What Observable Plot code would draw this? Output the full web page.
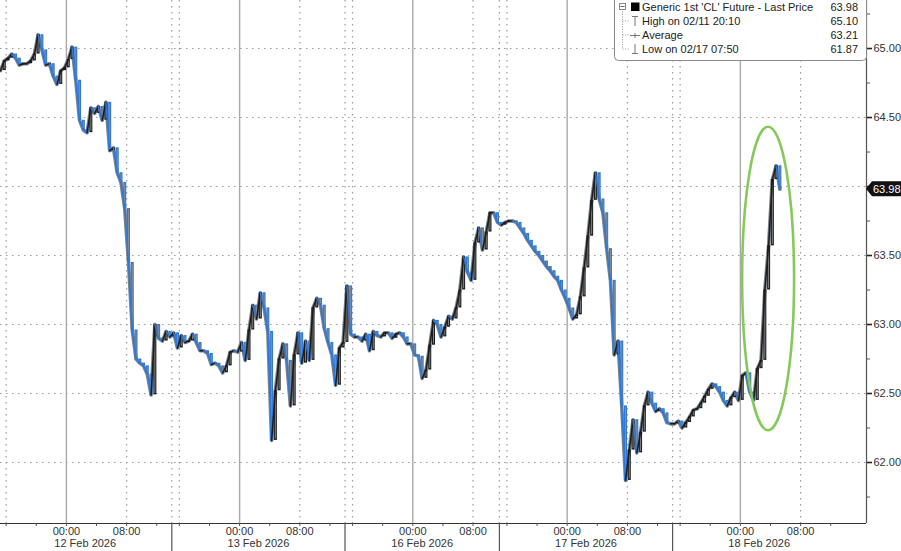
<!DOCTYPE html>
<html><head><meta charset="utf-8">
<script src="https://cdn.jsdelivr.net/npm/d3@7"></script>
<script src="https://cdn.jsdelivr.net/npm/@observablehq/plot@0.6"></script>
<style>
body{margin:0;background:#fff;font-family:"Liberation Sans",Arial,sans-serif}
#chart{position:relative;width:901px;height:551px;overflow:hidden}
</style>
</head><body><div id="chart"></div>
<script>
// ---- data ----
// closes every 0.5 trading hours from the left edge of the chart
const barStepHours = 0.5;
const prices = [
64.84,64.91,64.93,64.96,64.93,64.88,64.89,64.89,64.91,64.96,
65.10,64.99,64.88,64.89,64.80,64.74,64.84,64.86,64.92,65.01,
64.77,64.48,64.41,64.39,64.57,64.53,64.58,64.48,64.61,64.26,
64.28,64.10,64.03,63.84,63.45,62.96,62.75,62.72,62.70,62.64,
62.49,63.00,62.90,62.88,62.95,62.91,62.94,62.83,62.92,62.87,
62.88,62.93,62.87,62.81,62.81,62.79,62.71,62.72,62.70,62.65,
62.70,62.80,62.81,62.80,62.87,62.74,62.96,63.14,63.04,63.23,
63.12,62.95,62.16,62.52,62.75,62.86,62.74,62.41,62.78,62.94,
62.72,62.88,62.74,63.12,63.19,63.14,62.97,62.87,62.78,62.56,
62.83,62.87,63.28,62.93,62.91,62.91,62.88,62.93,62.81,62.95,
62.92,62.91,62.94,62.94,62.90,62.93,62.94,62.91,62.86,62.86,
62.78,62.77,62.61,62.67,62.85,63.03,63.00,62.91,62.98,63.06,
63.04,63.12,63.25,63.49,63.38,63.32,63.59,63.70,63.54,63.67,
63.81,63.81,63.74,63.72,63.74,63.75,63.75,63.74,63.70,63.66,
63.61,63.57,63.53,63.50,63.46,63.42,63.39,63.35,63.32,63.25,
63.19,63.12,63.04,63.07,63.20,63.41,63.64,63.90,64.10,63.91,
63.81,63.55,63.32,62.78,62.88,62.41,61.87,62.09,62.31,62.07,
62.22,62.41,62.51,62.43,62.37,62.39,62.36,62.29,62.28,62.28,
62.30,62.25,62.29,62.33,62.38,62.39,62.43,62.48,62.53,62.57,
62.55,62.51,62.45,62.41,62.47,62.51,62.45,62.63,62.65,62.51,
62.45,62.68,62.74,63.25,63.57,64.05,64.15,63.98
];
// trading sessions (hours of trading time from the chart's left edge)
const sessionStarts = [-0.25, 22.75, 45.75, 66.25, 89.25];
const sessionEnds   = [22.75, 45.75, 66.25, 89.25, 112.25];
const sessionLabels = ["12 Feb 2026","13 Feb 2026","16 Feb 2026","17 Feb 2026","18 Feb 2026"];
const clockLabels = ["00:00","08:00"];
const clockOffsets = [9, 17];            // hours after session start
const minorTickOffsets = [1, 5, 9, 13, 17, 21];
const xDomain = [0, 115];
const yDomain = [61.558, 65.348];
const yTicks = [62.0, 62.5, 63.0, 63.5, 64.0, 64.5, 65.0];
const yTickLabels = ["62.00","62.50","63.00","63.50","","64.50","65.00"];
const yMinorTicks = [61.75, 62.25, 62.75, 63.25, 63.75, 64.25, 64.75, 65.25];
const lastPrice = 63.98;
const legendNames = ["Generic 1st 'CL' Future - Last Price","High on 02/11 20:10","Average","Low on 02/17 07:50"];
const legendValues = ["63.98","65.10","63.21","61.87"];
// highlighted area (trading hour, price, half-width in hours, half-height in price)
const highlight = {t: 102.0, p: 63.33, rt: 3.45, rp: 1.10};

// ---- derived tables ----
const bars = prices.map((p, i) => ({t: i * barStepHours, p, prevT: i ? (i - 1) * barStepHours : 0, prev: i ? prices[i - 1] : p}));
const midnights = sessionStarts.map(s => s + clockOffsets[0]);
const eights = sessionStarts.map(s => s + clockOffsets[1]);
const clockTicks = sessionStarts.flatMap(s => clockOffsets.map((o, k) => ({t: s + o, label: clockLabels[k]})));
const minorX = sessionStarts.flatMap((s, i) => minorTickOffsets.map(o => s + o).filter(t => t < sessionEnds[i] && t < xDomain[1]));
const sessionMids = sessionStarts.map((s, i) => ({t: (s + sessionEnds[i]) / 2, label: sessionLabels[i]}));
const sessionDots = sessionStarts.flatMap(s => [s, s + 1]).filter(t => t >= 0);

const up = "#1c1c1c", down = "#2f78d6";
const dir = d => d.p >= d.prev ? up : down;
const plot = Plot.plot({
  width: 901, height: 551,
  marginLeft: 0, marginRight: 35, marginTop: 0, marginBottom: 28,
  style: {fontFamily: "'Liberation Sans', Arial, sans-serif", fontSize: "11px", color: "#333", background: "#fff"},
  x: {domain: xDomain, label: null},
  y: {domain: yDomain, label: null},
  color: {type: "identity"},
  marks: [
    Plot.ruleY(yTicks, {stroke: "#9a9a9a", strokeDasharray: "1.5,4.5", strokeWidth: 1.2}),
    Plot.ruleX(eights.concat(sessionDots), {stroke: "#9a9a9a", strokeDasharray: "1.5,4.5", strokeWidth: 1.2}),
    Plot.ruleX(midnights, {stroke: "#a9a9a9", strokeWidth: 1.4}),
    Plot.line(bars, {x: "t", y: "p", stroke: "#7a838d", strokeWidth: 3.6}),
    Plot.ruleX(bars, {x: "t", y1: "prev", y2: "p", stroke: dir, strokeWidth: 3}),
    Plot.ruleX(bars, {x: "t", y1: d => Math.min(d.p, d.prev) + 0.01, y2: d => Math.max(d.p, d.prev) - 0.01, stroke: "#8e8e8e", strokeWidth: 0.9}),
    Plot.link(bars, {x1: "prevT", y1: "prev", x2: "t", y2: "p", stroke: dir, strokeWidth: 1.5, strokeLinecap: "round"}),
    Plot.ruleY([yDomain[0]], {stroke: "#333", strokeWidth: 1.2}),
    Plot.ruleX([xDomain[1]], {stroke: "#555", strokeWidth: 1.2}),
    Plot.axisY({anchor: "right", label: null, ticks: yTicks, tickFormat: (d, i) => yTickLabels[i], tickSize: 5, tickPadding: 2, strokeWidth: 1.6, stroke: "#222", fill: "#333"}),
    Plot.axisY({anchor: "right", label: null, ticks: yMinorTicks, tickSize: 3, text: null, stroke: "#555"}),
    Plot.axisX({label: null, ticks: minorX, tickSize: 3, text: null, stroke: "#555"}),
    Plot.axisX({label: null, ticks: sessionStarts.slice(1), tickSize: 28, text: null, stroke: "#555", strokeWidth: 1.2}),
    Plot.text(clockTicks, {x: "t", text: "label", frameAnchor: "bottom", lineAnchor: "top", dy: 4, fill: "#333"}),
    Plot.text(sessionMids, {x: "t", text: "label", frameAnchor: "bottom", lineAnchor: "top", dy: 16, fill: "#333"})
  ]
});

const svg = d3.select(plot);
const xs = plot.scale("x"), ys = plot.scale("y");
// highlight ellipse
const cx = xs.apply(highlight.t), cy = ys.apply(highlight.p);
svg.append("ellipse").attr("cx", cx).attr("cy", cy)
  .attr("rx", xs.apply(highlight.t + highlight.rt) - cx)
  .attr("ry", cy - ys.apply(highlight.p + highlight.rp))
  .attr("fill", "none").attr("stroke", "#86c95a").attr("stroke-width", 2.6);
// last price tag
const ax = xs.apply(xDomain[1]), ly = ys.apply(lastPrice);
svg.append("path").attr("d", `M${ax},${ly} L${ax + 6},${ly - 7.5} L901,${ly - 7.5} L901,${ly + 7.5} L${ax + 6},${ly + 7.5} Z`).attr("fill", "#111");
svg.append("text").attr("x", ax + 7).attr("y", ly + 4).attr("text-anchor", "start").attr("fill", "#fff").attr("font-size", 11).text(lastPrice.toFixed(2));
// legend
const lg = svg.append("g").attr("font-size", 11).attr("fill", "#222").attr("text-anchor", "start");
lg.append("rect").attr("x", 614.5).attr("y", -4).attr("width", 252).attr("height", 64.5).attr("rx", 4).attr("fill", "#fff").attr("stroke", "#8a8a8a");
const rowY = [7, 21, 35, 49];
lg.append("line").attr("x1", 622.5).attr("x2", 622.5).attr("y1", 9).attr("y2", rowY[3]).attr("stroke", "#999").attr("stroke-dasharray", "1,1.5");
rowY.slice(1).forEach(y => lg.append("line").attr("x1", 622.5).attr("x2", 629).attr("y1", y).attr("y2", y).attr("stroke", "#999").attr("stroke-dasharray", "1,1.5"));
lg.append("rect").attr("x", 619.5).attr("y", 3.5).attr("width", 6).attr("height", 6).attr("fill", "#fff").attr("stroke", "#888");
lg.append("line").attr("x1", 620.5).attr("x2", 624.5).attr("y1", 6.5).attr("y2", 6.5).attr("stroke", "#666");
lg.append("rect").attr("x", 631).attr("y", 2.5).attr("width", 8.5).attr("height", 8.5).attr("fill", "#000");
const ic = lg.append("g").attr("stroke", "#777").attr("stroke-width", 1);
ic.append("line").attr("x1", 632).attr("x2", 638).attr("y1", 16.5).attr("y2", 16.5);
ic.append("line").attr("x1", 635).attr("x2", 635).attr("y1", 16.5).attr("y2", 26);
ic.append("line").attr("x1", 630).attr("x2", 640).attr("y1", 35.5).attr("y2", 35.5);
ic.append("line").attr("x1", 635).attr("x2", 635).attr("y1", 33).attr("y2", 38);
ic.append("line").attr("x1", 635).attr("x2", 635).attr("y1", 44).attr("y2", 53.5);
ic.append("line").attr("x1", 632).attr("x2", 638).attr("y1", 53.5).attr("y2", 53.5);
legendNames.forEach((n, i) => {
  lg.append("text").attr("x", 642).attr("y", rowY[i] + 4).attr("text-anchor", "start").text(n);
  lg.append("text").attr("x", 858).attr("y", rowY[i] + 4).attr("text-anchor", "end").text(legendValues[i]);
});
document.getElementById("chart").appendChild(plot);
</script></body></html>
